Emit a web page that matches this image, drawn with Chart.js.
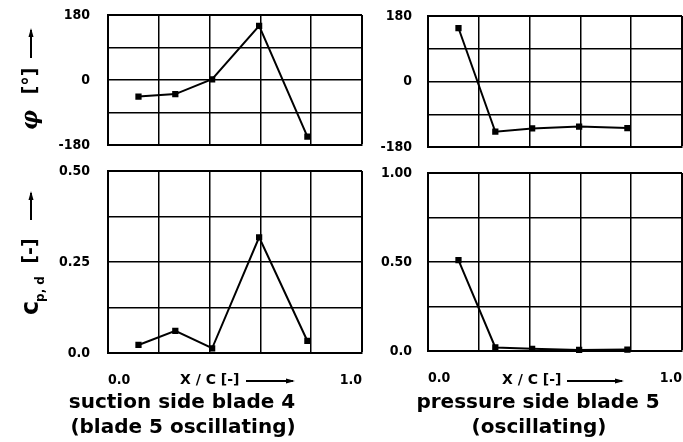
<!DOCTYPE html>
<html>
<head>
<meta charset="utf-8">
<script src="https://cdn.jsdelivr.net/npm/chart.js@4.4.0/dist/chart.umd.min.js"></script>
<style>
body { margin: 0; background: #fff; }
#wrap { position: relative; width: 683px; height: 442px; overflow: hidden; }
canvas { position: absolute; }
</style>
</head>
<body>
<div id="wrap">
  <canvas id="c1" width="370" height="160" style="left:0;top:0"></canvas>
  <canvas id="c2" width="313" height="160" style="left:370px;top:0"></canvas>
  <canvas id="c3" width="370" height="282" style="left:0;top:160px"></canvas>
  <canvas id="c4" width="313" height="282" style="left:370px;top:160px"></canvas>
</div>
<script>
// measuring positions x/c
const xPositions = [0.12, 0.265, 0.41, 0.595, 0.785];

// phase angle [deg]
const phaseSuction = [-46, -39, 2, 150, -157];
const phasePressure = [147, -138, -129, -124, -128];

// amplitude c_p,d [-]
const ampSuction = [0.022, 0.061, 0.013, 0.318, 0.033];
const ampPressure = [0.51, 0.02, 0.012, 0.006, 0.008];

// labelled ticks
const phaseTickValues = [-180, 0, 180];
const phaseTickLabels = ['-180', '0', '180'];
const ampSuctionTickValues = [0, 0.25, 0.5];
const ampSuctionTickLabels = ['0.0', '0.25', '0.50'];
const ampPressureTickValues = [0, 0.5, 1];
const ampPressureTickLabels = ['0.0', '0.50', '1.00'];
const xTickValues = [0, 1];
const xTickLabels = ['0.0', '1.0'];

const TICK_FONT = { family: '"DejaVu Sans Condensed", "DejaVu Sans", sans-serif', size: 14, weight: 'bold' };

function labelFor(values, labels, v) {
  for (let i = 0; i < values.length; i++) {
    if (Math.abs(values[i] - v) < 1e-6) return labels[i];
  }
  return '';
}

function arrow(ctx, x1, y1, x2, y2) {
  ctx.save();
  ctx.strokeStyle = '#000';
  ctx.fillStyle = '#000';
  ctx.lineWidth = 2;
  ctx.beginPath();
  ctx.moveTo(x1, y1);
  ctx.lineTo(x2, y2);
  ctx.stroke();
  const a = Math.atan2(y2 - y1, x2 - x1);
  ctx.beginPath();
  ctx.moveTo(x2 + 2 * Math.cos(a), y2 + 2 * Math.sin(a));
  ctx.lineTo(x2 - 7 * Math.cos(a) + 2.5 * Math.sin(a), y2 - 7 * Math.sin(a) - 2.5 * Math.cos(a));
  ctx.lineTo(x2 - 7 * Math.cos(a) - 2.5 * Math.sin(a), y2 - 7 * Math.sin(a) + 2.5 * Math.cos(a));
  ctx.closePath();
  ctx.fill();
  ctx.restore();
}

function rotText(ctx, text, x, y, font) {
  ctx.save();
  ctx.translate(x, y);
  ctx.rotate(-Math.PI / 2);
  ctx.font = font;
  ctx.fillStyle = '#000';
  ctx.textAlign = 'center';
  ctx.textBaseline = 'middle';
  ctx.fillText(text, 0, 0);
  ctx.restore();
}

function plainText(ctx, text, x, y, font, align) {
  ctx.save();
  ctx.font = font;
  ctx.fillStyle = '#000';
  ctx.textAlign = align || 'center';
  ctx.textBaseline = 'middle';
  ctx.fillText(text, x, y);
  ctx.restore();
}

function makeChart(id, values, yMin, yMax, yStep, tickValues, tickLabels, box, showX, tickGap, drawExtra) {
  const canvas = document.getElementById(id);
  const W = canvas.width, H = canvas.height;
  const yW = 50, xH = showX ? 42 : 0;
  return new Chart(canvas, {
    type: 'line',
    data: {
      datasets: [{
        data: xPositions.map((x, i) => ({ x: x, y: values[i] })),
        borderColor: '#000',
        backgroundColor: '#000',
        borderWidth: 2,
        pointStyle: 'rect',
        pointRadius: 3,
        tension: 0,
        clip: false
      }]
    },
    options: {
      responsive: false,
      animation: false,
      layout: {
        autoPadding: false,
        padding: { left: box.left - yW, top: box.top, right: W - box.right, bottom: H - box.bottom - xH }
      },
      plugins: { legend: { display: false }, tooltip: { enabled: false } },
      scales: {
        x: {
          type: 'linear',
          min: 0, max: 1,
          ticks: {
            stepSize: 0.2,
            display: showX,
            padding: 0,
            align: 'inner',
            maxRotation: 0,
            autoSkip: false,
            color: '#000',
            font: TICK_FONT,
            callback: (v) => labelFor(xTickValues, xTickLabels, v)
          },
          grid: {
            color: '#000',
            lineWidth: (c) => (c.tick && Math.abs(c.tick.value - 1) < 1e-6) ? 2 : 1.5,
            drawTicks: true, tickLength: 19, tickColor: 'rgba(0,0,0,0)'
          },
          border: { color: '#000', width: 2 },
          afterFit: (s) => { s.height = xH; }
        },
        y: {
          min: yMin, max: yMax,
          ticks: {
            stepSize: yStep,
            padding: 0,
            autoSkip: false,
            color: '#000',
            font: TICK_FONT,
            callback: (v) => labelFor(tickValues, tickLabels, v)
          },
          grid: {
            color: '#000',
            lineWidth: (c) => (c.tick && Math.abs(c.tick.value - yMax) < 1e-6) ? 2 : 1.5,
            drawTicks: true, tickLength: tickGap, tickColor: 'rgba(0,0,0,0)'
          },
          border: { color: '#000', width: 2 },
          afterFit: (s) => { s.width = yW; }
        }
      }
    },
    plugins: [{ id: 'extra', afterDraw: (chart) => { if (drawExtra) drawExtra(chart.ctx); } }]
  });
}

const TITLE_FONT = 'bold 20px "DejaVu Sans", sans-serif';
const AXIS_FONT = 'bold 14px "DejaVu Sans", sans-serif';

makeChart('c1', phaseSuction, -180, 180, 90, phaseTickValues, phaseTickLabels,
  { left: 108, top: 15, right: 362, bottom: 145 }, false, 18, (ctx) => {
    rotText(ctx, 'φ', 31, 120, 'italic bold 22px "DejaVu Serif", serif');
    rotText(ctx, '[°]', 31, 81, 'bold 19px "DejaVu Sans", sans-serif');
    arrow(ctx, 31, 58, 31, 30);
  });

makeChart('c2', phasePressure, -180, 180, 90, phaseTickValues, phaseTickLabels,
  { left: 58, top: 16, right: 312, bottom: 147 }, false, 16, null);

makeChart('c3', ampSuction, 0, 0.5, 0.125, ampSuctionTickValues, ampSuctionTickLabels,
  { left: 108, top: 11, right: 362, bottom: 193 }, true, 18, (ctx) => {
    rotText(ctx, 'c', 32, 148, 'bold 24px "DejaVu Sans", sans-serif');
    rotText(ctx, 'p, d', 41, 129, 'bold 12px "DejaVu Sans", sans-serif');
    rotText(ctx, '[-]', 31, 91, 'bold 19px "DejaVu Sans", sans-serif');
    arrow(ctx, 31, 60, 31, 33);
    plainText(ctx, 'X / C [-]', 180, 220, AXIS_FONT, 'left');
    arrow(ctx, 246, 221, 293, 221);
    plainText(ctx, 'suction side blade 4', 182, 243, TITLE_FONT);
    plainText(ctx, '(blade 5 oscillating)', 183, 268, TITLE_FONT);
  });

makeChart('c4', ampPressure, 0, 1, 0.25, ampPressureTickValues, ampPressureTickLabels,
  { left: 58, top: 13, right: 312, bottom: 191 }, true, 16, (ctx) => {
    plainText(ctx, 'X / C [-]', 132, 220, AXIS_FONT, 'left');
    arrow(ctx, 197, 221, 252, 221);
    plainText(ctx, 'pressure side blade 5', 168, 243, TITLE_FONT);
    plainText(ctx, '(oscillating)', 169, 268, TITLE_FONT);
  });
</script>
</body>
</html>
